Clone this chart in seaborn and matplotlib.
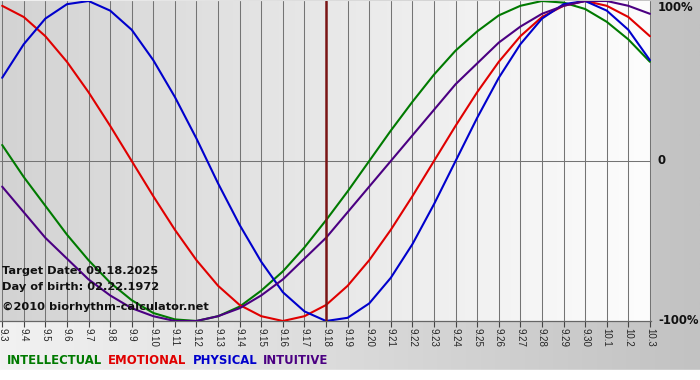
import numpy as np
import pandas as pd
import matplotlib
matplotlib.use("Agg")
import matplotlib.pyplot as plt
import seaborn as sns

dates = ["9.3", "9.4", "9.5", "9.6", "9.7", "9.8", "9.9", "9.10", "9.11", "9.12",
         "9.13", "9.14", "9.15", "9.16", "9.17", "9.18", "9.19", "9.20", "9.21", "9.22",
         "9.23", "9.24", "9.25", "9.26", "9.27", "9.28", "9.29", "9.30", "10.1", "10.2", "10.3"]

physical = [0.52, 0.73, 0.89, 0.98, 1.00, 0.94, 0.82, 0.63, 0.40, 0.14, -0.14, -0.40, -0.63,
            -0.82, -0.94, -1.00, -0.98, -0.89, -0.73, -0.52, -0.27, 0.00, 0.27, 0.52, 0.73,
            0.89, 0.98, 1.00, 0.94, 0.82, 0.63]
emotional = [0.97, 0.90, 0.78, 0.62, 0.43, 0.22, 0.00, -0.22, -0.43, -0.62, -0.78, -0.90,
             -0.97, -1.00, -0.97, -0.90, -0.78, -0.62, -0.43, -0.22, 0.00, 0.22, 0.43, 0.62,
             0.78, 0.90, 0.97, 1.00, 0.97, 0.90, 0.78]
intellectual = [0.10, -0.10, -0.28, -0.46, -0.62, -0.76, -0.87, -0.95, -0.99, -1.00, -0.97,
                -0.91, -0.81, -0.69, -0.54, -0.37, -0.19, 0.00, 0.19, 0.37, 0.54, 0.69, 0.81,
                0.91, 0.97, 1.00, 0.99, 0.95, 0.87, 0.76, 0.62]
intuitive = [-0.16, -0.32, -0.48, -0.61, -0.74, -0.84, -0.92, -0.97, -1.00, -1.00, -0.97,
             -0.92, -0.84, -0.74, -0.61, -0.48, -0.32, -0.16, 0.00, 0.16, 0.32, 0.48, 0.61,
             0.74, 0.84, 0.92, 0.97, 1.00, 1.00, 0.97, 0.92]

series_names = ["INTELLECTUAL", "EMOTIONAL", "PHYSICAL", "INTUITIVE"]
series_colors = ["#007a00", "#e00000", "#0000cc", "#4b0082"]
target_label = "9.18"
target_text = "Target Date: 09.18.2025"
birth_text = "Day of birth: 02.22.1972"
copyright_text = "\u00a92010 biorhythm-calculator.net"
y_labels = ["100%", "0", "-100%"]

sns.set_theme(style="white")
plt.rcParams['font.family'] = ['DejaVu Sans']

W, H = 700, 380
fig = plt.figure(figsize=(W / 100, H / 100), dpi=100)

# figure background gradient
bg = fig.add_axes([0, 0, 1, 1], zorder=0)
grad = np.linspace(0, 1, 256)[None, :]
cmap_bg = matplotlib.colors.LinearSegmentedColormap.from_list("bg", ["#f2f2f2", "#c2c2c2"])
bg.imshow(grad, aspect="auto", cmap=cmap_bg, extent=[0, 1, 0, 1], transform=bg.transAxes)
bg.axhspan(0, 10 / H, color="white")
bg.set_xlim(0, 1); bg.set_ylim(0, 1)
bg.axis("off")

left, right = 0 / W, 651 / W
top, bottom = 1 / H, 321 / H
ax = fig.add_axes([left, 1 - bottom, right - left, bottom - top], zorder=1)

x = np.arange(len(dates))
df = pd.DataFrame({"x": np.tile(x, 4),
                   "value": np.concatenate([np.array(intellectual), np.array(emotional),
                                            np.array(physical), np.array(intuitive)]) * 100,
                   "series": np.repeat(series_names, len(dates))})

ax.set_xlim(-0.1, len(dates) - 1 + 0.05)
ax.set_ylim(-100, 100)

# plot area gradient
cmap_pl = matplotlib.colors.LinearSegmentedColormap.from_list("pl", ["#d3d3d3", "#fdfdfd"])
ax.imshow(grad, aspect="auto", cmap=cmap_pl, extent=[0, 1, 0, 1],
          transform=ax.transAxes, zorder=0)

for xi in x:
    ax.axvline(xi, color="#747474", lw=0.75, zorder=1)
ax.axhline(0, color="#747474", lw=0.75, zorder=1)

sns.lineplot(data=df, x="x", y="value", hue="series", palette=series_colors,
             hue_order=series_names, linewidth=1.5, legend=False, ax=ax, zorder=3)

ti = dates.index(target_label)
ax.axvline(ti, color="#7a1515", lw=1.8, zorder=4)

ax.set_xticks(x)
ax.set_xticklabels(dates, rotation=270, fontsize=7, fontfamily="Liberation Sans")
ax.tick_params(axis="x", length=4, width=0.8, color="#444444", pad=1, bottom=True)
ax.set_yticks([])
ax.set_xlabel(""); ax.set_ylabel("")
for s in ax.spines.values():
    s.set_visible(False)
ax.spines["bottom"].set_visible(True)
ax.spines["bottom"].set_color("#666666")
ax.spines["bottom"].set_linewidth(0.9)

# right labels
for yv, lab in zip([100, 0, -100], y_labels):
    t = ax.text(1.0, yv, lab, transform=ax.get_yaxis_transform(), ha="left",
                va="top" if yv == 100 else "center",
                fontsize=8.4, fontweight="bold", color="#111111", clip_on=False)
    t.set_x(1.0 + 7 / 651)

# annotations
fs = 8.2
fig.text(2 / W, 1 - 271 / H, target_text, fontsize=fs, fontweight="bold", va="center",
         ha="left", color="#111111", zorder=5)
fig.text(2 / W, 1 - 287 / H, birth_text, fontsize=fs, fontweight="bold", va="center",
         ha="left", color="#111111", zorder=5)
fig.text(2 / W, 1 - 307 / H, copyright_text, fontsize=fs, fontweight="bold", va="center",
         ha="left", color="#111111", zorder=5)

# legend text
xpos = 7
ypos = 1 - 361 / H
renderer = fig.canvas.get_renderer()
for name, col in zip(series_names, series_colors):
    t = fig.text(xpos / W, ypos, name, fontsize=8.4, fontweight="bold", color=col,
                 va="center", ha="left", zorder=5)
    bb = t.get_window_extent(renderer=renderer)
    xpos += bb.width + 6

fig.savefig("out.png", dpi=100)
